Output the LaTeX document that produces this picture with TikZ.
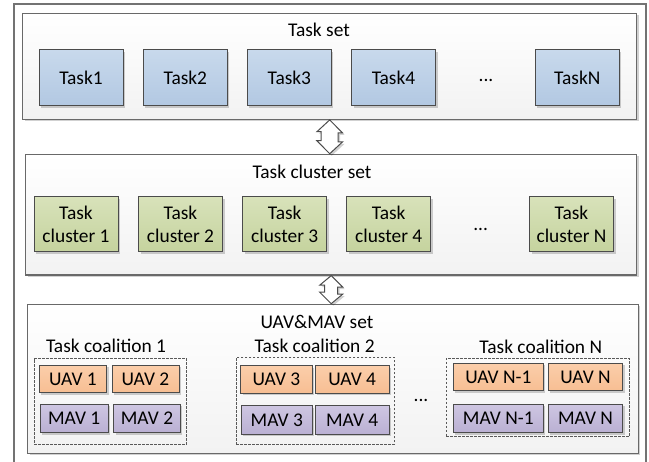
\documentclass[tikz,border=0pt]{standalone}
\usepackage{fontspec}
\setmainfont{Carlito}
\usetikzlibrary{shadows}

\definecolor{frameline}{RGB}{115,115,115}
\definecolor{panelline}{RGB}{105,105,105}
\definecolor{panelgray}{RGB}{242,242,242}
\definecolor{boxline}{RGB}{75,75,75}
\definecolor{bluetop}{RGB}{200,217,236}
\definecolor{bluebot}{RGB}{178,200,226}
\definecolor{greentop}{RGB}{216,226,186}
\definecolor{greenbot}{RGB}{197,211,158}
\definecolor{orangetop}{RGB}{251,206,170}
\definecolor{orangebot}{RGB}{247,190,147}
\definecolor{purpletop}{RGB}{206,198,226}
\definecolor{purplebot}{RGB}{186,176,211}

\tikzset{
  softshadow/.style={drop shadow={shadow xshift=2pt, shadow yshift=-2pt, fill=black, opacity=0.18}},
  panel/.style={draw=panelline, line width=1.2pt, top color=white, bottom color=panelgray,
                softshadow, inner sep=0pt},
  taskbox/.style={draw=boxline, line width=1pt, top color=bluetop, bottom color=bluebot,
                  softshadow, minimum width=84pt, minimum height=56pt, inner sep=0pt},
  clusterbox/.style={draw=boxline, line width=1pt, top color=greentop, bottom color=greenbot,
                     softshadow, minimum width=84pt, minimum height=55pt, inner sep=0pt, align=center},
  uavbox/.style={draw=boxline, line width=1pt, top color=orangetop, bottom color=orangebot,
                 softshadow, minimum height=27.5pt, inner sep=0pt},
  mavbox/.style={draw=boxline, line width=1pt, top color=purpletop, bottom color=purplebot,
                 softshadow, minimum height=28.5pt, inner sep=0pt},
  coalition/.style={draw=black!65, line width=0.9pt, dash pattern=on 2.5pt off 1.5pt, inner sep=0pt},
  dblarrow/.style={draw=black!70, line width=1pt, fill=white, softshadow, line join=miter}
}

\begin{document}
\begin{tikzpicture}[x=1pt,y=-1pt,font=\fontsize{19.4}{23.3}\selectfont]
\useasboundingbox (0,0) rectangle (649,462);

% outer frame, open at the bottom
\draw[frameline, line width=1.2pt] (14,462) -- (14,4) -- (646,4) -- (646,462);

% task set
\draw (329.7,66.3) node (taskset) [panel, minimum width=614pt, minimum height=106pt] {};
\draw (319,30) node (tasktitle) {Task set};
\draw (81,78)    node (task1) [taskbox] {Task1};
\draw (185.3,78) node (task2) [taskbox] {Task2};
\draw (289.3,78) node (task3) [taskbox] {Task3};
\draw (393.5,78) node (task4) [taskbox] {Task4};
\draw (486,82)   node (taskdots) [anchor=base] {...};
\draw (577.3,78) node (taskn) [taskbox] {TaskN};

% task cluster set
\draw (331.2,214.7) node (clusterset) [panel, minimum width=611pt, minimum height=120.7pt] {};
\draw (312,171.7) node (clustertitle) {Task cluster set};
\draw (76,224.3)    node (cluster1) [clusterbox] {Task\\cluster 1};
\draw (180.5,224.3) node (cluster2) [clusterbox] {Task\\cluster 2};
\draw (284.7,224.3) node (cluster3) [clusterbox] {Task\\cluster 3};
\draw (388.7,224.3) node (cluster4) [clusterbox] {Task\\cluster 4};
\draw (480.7,231)   node (clusterdots) [anchor=base] {...};
\draw (571.5,224.3) node (clustern) [clusterbox] {Task\\cluster N};

% UAV&MAV set
\draw (333,378.8) node (vehicleset) [panel, minimum width=610.6pt, minimum height=149pt] {};
\draw (317,321.7) node (vehicletitle) {UAV\&MAV set};

\draw (110.5,401.5) node (coal1) [coalition, minimum width=152.4pt, minimum height=85.6pt] {};
\draw (106,345.7) node (coal1title) {Task coalition 1};
\draw (73,379)    node (uav1) [uavbox, minimum width=67.4pt] {UAV 1};
\draw (145.5,379) node (uav2) [uavbox, minimum width=67pt] {UAV 2};
\draw (74.2,418.5) node (mav1) [mavbox, minimum width=68.3pt] {MAV 1};
\draw (147,418.5)  node (mav2) [mavbox, minimum width=66.6pt] {MAV 2};

\draw (315.2,400.7) node (coal2) [coalition, minimum width=158.3pt, minimum height=86.7pt] {};
\draw (314.7,345.7) node (coal2title) {Task coalition 2};
\draw (276.5,379.3) node (uav3) [uavbox, minimum width=71.6pt] {UAV 3};
\draw (352.2,379.3) node (uav4) [uavbox, minimum width=74.3pt] {UAV 4};
\draw (276.8,420.2) node (mav3) [mavbox, minimum width=71pt] {MAV 3};
\draw (352.2,420.2) node (mav4) [mavbox, minimum width=74.3pt] {MAV 4};

\draw (421,402) node (vehicledots) [anchor=base] {...};

\draw (537.8,397.5) node (coaln) [coalition, minimum width=183pt, minimum height=78.4pt] {};
\draw (540.8,346.7) node (coalntitle) {Task coalition N};
\draw (498.3,377) node (uavn1) [uavbox, minimum width=90pt] {UAV N-1};
\draw (585.5,377) node (uavn)  [uavbox, minimum width=74.4pt] {UAV N};
\draw (498.3,418.3) node (mavn1) [mavbox, minimum width=90pt] {MAV N-1};
\draw (585.5,418.3) node (mavn)  [mavbox, minimum width=74.4pt] {MAV N};

% double arrows between the sets
\draw[dblarrow] (taskset.south) -- ++(12.8,13) -- ++(-4.3,0) -- ++(0,9) -- ++(4.3,0)
  -- (clusterset.north -| taskset.south) -- ++(-12.8,-13) -- ++(4.3,0) -- ++(0,-9) -- ++(-4.3,0) -- cycle;
\draw[dblarrow] (clusterset.south) -- ++(11.5,11.5) -- ++(-5,0) -- ++(0,7) -- ++(5,0)
  -- (vehicleset.north -| clusterset.south) -- ++(-11.5,-11.5) -- ++(5,0) -- ++(0,-7) -- ++(-5,0) -- cycle;
\end{tikzpicture}
\end{document}
